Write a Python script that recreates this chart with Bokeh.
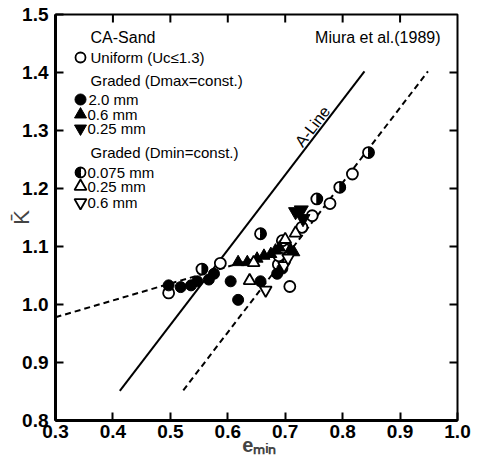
import math
from bokeh.plotting import figure
from bokeh.models import Range1d, FixedTicker, PrintfTickFormatter, Label
from bokeh.embed import file_html
from bokeh.resources import INLINE

# ---------------- data ----------------
x_ticks = [0.3, 0.4, 0.5, 0.6, 0.7, 0.8, 0.9, 1.0]
y_ticks = [0.8, 0.9, 1.0, 1.1, 1.2, 1.3, 1.4, 1.5]

# Uniform (open circles)
uniform_x = [0.497, 0.587, 0.688, 0.689, 0.697, 0.695, 0.708, 0.729, 0.747, 0.778, 0.817]
uniform_y = [1.020, 1.071, 1.069, 1.084, 1.098, 1.110, 1.031, 1.133, 1.153, 1.174, 1.225]

# Graded Dmax=const : 2.0 mm (filled circles)
d20_x = [0.497, 0.518, 0.536, 0.547, 0.567, 0.576, 0.605, 0.618, 0.657, 0.686, 0.695]
d20_y = [1.033, 1.030, 1.033, 1.040, 1.043, 1.053, 1.040, 1.008, 1.040, 1.053, 1.062]

# 0.6 mm (filled up-triangles)
d06_x = [0.618, 0.634, 0.651, 0.663, 0.675, 0.683, 0.690, 0.709, 0.715]
d06_y = [1.073, 1.073, 1.079, 1.084, 1.087, 1.093, 1.098, 1.095, 1.090]

# 0.25 mm (filled down-triangles)
d025_x = [0.718, 0.728, 0.731]
d025_y = [1.160, 1.163, 1.148]

# Graded Dmin=const : 0.075 mm (half-filled circles)
m0075_x = [0.555, 0.657, 0.755, 0.795, 0.845]
m0075_y = [1.061, 1.122, 1.182, 1.202, 1.262]

# 0.25 mm (open up-triangles)
m025_x = [0.638, 0.645, 0.700, 0.718]
m025_y = [1.041, 1.072, 1.112, 1.123]

# 0.6 mm (open down-triangles)
m06_x = [0.666, 0.698, 0.705]
m06_y = [1.025, 1.067, 1.080]

# lines
a_line_x = [0.412, 0.838]
a_line_y = [0.851, 1.402]
right_dash_x = [0.5225, 0.9486]
right_dash_y = [0.852, 1.402]
left_dash_x = [0.300, 0.713]
left_dash_y = [0.978, 1.098]

# ---------------- figure ----------------
FONT = "Liberation Sans"

X0, X1, Y0, Y1 = 0.3, 1.0, 0.8, 1.5
W, H = 478, 462
BL, BR, BT, BB = 55, 21, 14, 42
FW = W - BL - BR          # frame width in px
FH = H - BT - BB          # frame height in px

p = figure(width=W, height=H, x_range=Range1d(X0, X1), y_range=Range1d(Y0, Y1),
           output_backend="svg", toolbar_location=None,
           min_border_left=BL, min_border_right=BR, min_border_top=BT, min_border_bottom=BB)
p.background_fill_color = "white"
p.border_fill_color = "white"
p.xgrid.grid_line_color = None
p.ygrid.grid_line_color = None
p.outline_line_color = "black"
p.outline_line_width = 2

for ax, ticks in ((p.xaxis[0], x_ticks), (p.yaxis[0], y_ticks)):
    ax.ticker = FixedTicker(ticks=ticks)
    ax.formatter = PrintfTickFormatter(format="%.1f")
    ax.axis_line_color = "black"
    ax.axis_line_width = 3
    ax.major_tick_in = 8
    ax.major_tick_out = 0
    ax.major_tick_line_width = 2
    ax.minor_tick_line_color = None
    ax.major_label_text_font = FONT
    ax.major_label_text_font_style = "bold"
    ax.major_label_text_font_size = "19px"
    ax.major_label_text_color = "black"

p.xaxis[0].major_label_standoff = 4
p.yaxis[0].major_label_standoff = 7

# axis titles
p.yaxis[0].axis_label = "K\u0304"
p.yaxis[0].axis_label_text_font = FONT
p.yaxis[0].axis_label_text_font_size = "22px"
p.yaxis[0].axis_label_text_font_style = "normal"
p.yaxis[0].axis_label_standoff = -15

p.xaxis[0].axis_label = "\u00a0e\u2098\u1d62\u2099"
p.xaxis[0].axis_label_text_font = FONT
p.xaxis[0].axis_label_text_font_size = "20px"
p.xaxis[0].axis_label_text_font_style = "bold"
p.xaxis[0].axis_label_standoff = -7

# inward ticks on top and right edges, from the same tick lists
px_x = (X1 - X0) / FW
px_y = (Y1 - Y0) / FH
top_x = [t for t in x_ticks if X0 < t < X1]
right_y = [t for t in y_ticks if Y0 < t < Y1]
p.segment(x0=top_x, y0=[Y1] * len(top_x), x1=top_x, y1=[Y1 - 8 * px_y] * len(top_x),
          line_color="black", line_width=2)
p.segment(x0=[X1] * len(right_y), y0=right_y, x1=[X1 - 8 * px_x] * len(right_y), y1=right_y,
          line_color="black", line_width=2)

# page pixel -> data helpers for annotation placement
def dx(px):
    return X0 + (px - BL) * px_x

def dy(py):
    return Y1 - (py - BT) * px_y

# ---------------- lines ----------------
p.line(a_line_x, a_line_y, line_color="black", line_width=2)
p.line(right_dash_x, right_dash_y, line_color="black", line_width=2, line_dash="6 4")
p.line(left_dash_x, left_dash_y, line_color="black", line_width=2, line_dash="6 4")

# ---------------- markers ----------------
MS = 11
TS = 12
def half_circles(xs, ys, size, right=True):
    p.scatter(xs, ys, marker="circle", size=size, fill_color="white",
              line_color="black", line_width=1.8)
    if right:
        sa, ea = -math.pi / 2, math.pi / 2
    else:
        sa, ea = math.pi / 2, 3 * math.pi / 2
    p.wedge(x=xs, y=ys, radius=size / 2.0, radius_units="screen",
            start_angle=sa, end_angle=ea, fill_color="black", line_color="black")

p.scatter(uniform_x, uniform_y, marker="circle", size=MS, fill_color="white",
          line_color="black", line_width=1.8)
p.scatter(d20_x, d20_y, marker="circle", size=MS, fill_color="black", line_color="black")
p.scatter(d06_x, d06_y, marker="triangle", size=TS, fill_color="black", line_color="black")
p.scatter(d025_x, d025_y, marker="inverted_triangle", size=TS + 2, fill_color="black",
          line_color="black")
half_circles(m0075_x, m0075_y, MS, right=True)
p.scatter(m025_x, m025_y, marker="triangle", size=TS, fill_color="white",
          line_color="black", line_width=1.8)
p.scatter(m06_x, m06_y, marker="inverted_triangle", size=TS, fill_color="white",
          line_color="black", line_width=1.8)

# ---------------- legend (text block) ----------------
def text(px, py, s, size="15px", style="normal", align="left", angle=0.0):
    p.add_layout(Label(x=dx(px), y=dy(py), text=s, text_font=FONT,
                       text_font_size=size, text_font_style=style, text_color="black",
                       text_align=align, text_baseline="middle", angle=angle))

MX = 80
TX = 90
text(TX, 37, "CA-Sand", size="16px")
p.scatter([dx(MX)], [dy(57)], marker="circle", size=10, fill_color="white",
          line_color="black", line_width=1.8)
text(TX, 57, "Uniform (Uc\u22641.3)")
text(TX, 80, "Graded (Dmax=const.)")
p.scatter([dx(MX)], [dy(99)], marker="circle", size=11, fill_color="black", line_color="black")
text(88, 99, "2.0 mm")
p.scatter([dx(MX)], [dy(114)], marker="triangle", size=12, fill_color="black", line_color="black")
text(87, 114, "0.6 mm")
p.scatter([dx(MX)], [dy(128)], marker="inverted_triangle", size=12, fill_color="black",
          line_color="black")
text(87, 128, "0.25 mm")
text(TX, 152, "Graded (Dmin=const.)")
half_circles([dx(MX)], [dy(172)], 10, right=False)
text(87, 172, "0.075 mm")
p.scatter([dx(MX)], [dy(186)], marker="triangle", size=12, fill_color="white",
          line_color="black", line_width=1.8)
text(87, 186, "0.25 mm")
p.scatter([dx(MX)], [dy(202)], marker="inverted_triangle", size=12, fill_color="white",
          line_color="black", line_width=1.8)
text(87, 202, "0.6 mm")

text(440, 37, "Miura et al.(1989)", size="16px", align="right")
text(312, 126, "A-Line", size="16px", align="center", angle=math.radians(52.5))

open("out.html", "w").write(file_html(p, INLINE))
